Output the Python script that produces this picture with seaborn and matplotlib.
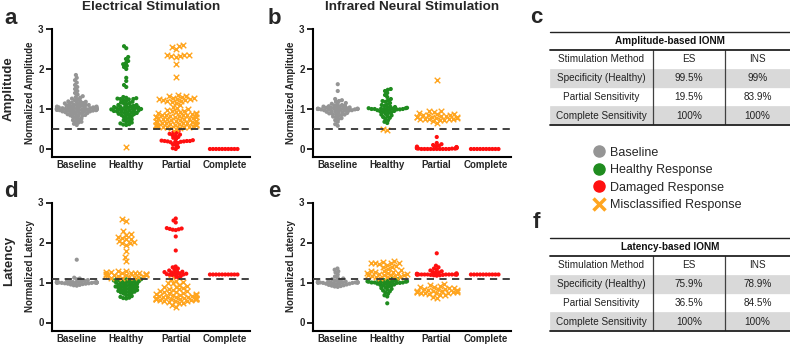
import warnings
import numpy as np
import pandas as pd
import matplotlib.pyplot as plt
import seaborn as sns
from matplotlib.colors import to_rgba
from matplotlib.lines import Line2D

warnings.filterwarnings('ignore')

# ---------------- data ----------------
cats = ['Baseline', 'Healthy', 'Partial', 'Complete']

# a) ES amplitude
a_base = [1.85, 1.78, 1.72, 1.66, 1.60, 1.55, 1.50, 1.45, 1.40, 1.36, 1.32, 1.30, 1.28, 1.26, 1.24, 1.22,
          1.20, 1.19, 1.18, 1.17, 1.16, 1.15, 1.14, 1.13, 1.12, 1.11, 1.10, 1.10, 1.09, 1.08, 1.08, 1.07,
          1.06, 1.06, 1.05, 1.05, 1.04, 1.04, 1.03, 1.03, 1.03, 1.02, 1.02, 1.02, 1.01, 1.01, 1.01, 1.01,
          1.00, 1.00, 1.00, 1.00, 1.00, 1.00, 1.00, 0.99, 0.99, 0.99, 0.99, 0.98, 0.98, 0.98, 0.97, 0.97,
          0.97, 0.96, 0.96, 0.95, 0.95, 0.94, 0.94, 0.93, 0.92, 0.92, 0.91, 0.90, 0.89, 0.88, 0.87, 0.86,
          0.85, 0.84, 0.83, 0.82, 0.80, 0.78, 0.76, 0.74, 0.72, 0.70, 0.68, 0.66, 0.63, 0.60]
a_healthy = [2.57, 2.52, 2.30, 2.25, 2.20, 2.15, 2.12, 2.08, 2.05, 2.00, 1.78, 1.70, 1.60, 1.55, 1.30, 1.28,
             1.27, 1.26, 1.25, 1.25, 1.24, 1.22, 1.20, 1.18, 1.16, 1.15, 1.14, 1.12, 1.10, 1.10, 1.08, 1.07,
             1.06, 1.05, 1.05, 1.04, 1.03, 1.02, 1.02, 1.01, 1.00, 1.00, 0.99, 0.98, 0.98, 0.97, 0.96, 0.95,
             0.95, 0.94, 0.93, 0.92, 0.91, 0.90, 0.90, 0.88, 0.87, 0.86, 0.85, 0.84, 0.82, 0.80, 0.78, 0.76,
             0.74, 0.72, 0.70, 0.68, 0.66, 0.64, 0.62, 0.61, 0.60]
a_healthy_mis = [0.05]
a_partial_mis = [2.60, 2.58, 2.55, 2.50, 2.36, 2.35, 2.34, 2.33, 2.32, 2.30, 2.12, 1.80, 1.35, 1.33, 1.32, 1.30,
                 1.28, 1.27, 1.26, 1.25, 1.24, 1.23, 1.22, 1.21, 1.20, 1.18, 1.15, 1.10, 1.05, 1.02, 1.00, 0.98,
                 0.96, 0.95, 0.93, 0.92, 0.90, 0.90, 0.88, 0.87, 0.86, 0.85, 0.85, 0.84, 0.83, 0.82, 0.81, 0.80,
                 0.80, 0.79, 0.78, 0.77, 0.76, 0.75, 0.75, 0.74, 0.73, 0.72, 0.71, 0.70, 0.70, 0.69, 0.68, 0.67,
                 0.66, 0.65, 0.65, 0.64, 0.63, 0.62, 0.62, 0.61, 0.60, 0.60, 0.60, 0.59, 0.58, 0.58, 0.57, 0.56,
                 0.55, 0.55, 0.54, 0.53, 0.52, 0.51]
a_partial_dmg = [0.45, 0.42, 0.40, 0.38, 0.36, 0.35, 0.33, 0.30, 0.28, 0.25, 0.22, 0.21, 0.20, 0.20, 0.20,
                 0.19, 0.19, 0.18, 0.18, 0.17, 0.15, 0.12, 0.10, 0.05, 0.02, 0.00]
a_complete = [0.0, 0.0, 0.0, 0.0, 0.0, 0.0, 0.0, 0.0, 0.0, 0.0]

# b) INS amplitude
b_base = [1.62, 1.45, 1.25, 1.22, 1.20, 1.18, 1.15, 1.13, 1.12, 1.10, 1.09, 1.08, 1.07, 1.06, 1.05, 1.05,
          1.04, 1.03, 1.03, 1.02, 1.02, 1.01, 1.01, 1.01, 1.00, 1.00, 1.00, 1.00, 1.00, 0.99, 0.99, 0.99,
          0.98, 0.98, 0.97, 0.97, 0.96, 0.96, 0.95, 0.94, 0.93, 0.92, 0.91, 0.90, 0.89, 0.88, 0.87, 0.86,
          0.85, 0.83, 0.81, 0.79, 0.77, 0.75, 0.72, 0.68, 0.62, 0.58]
b_healthy = [1.50, 1.48, 1.45, 1.40, 1.35, 1.30, 1.25, 1.22, 1.20, 1.18, 1.15, 1.12, 1.10, 1.08, 1.06, 1.05,
             1.04, 1.03, 1.02, 1.02, 1.01, 1.01, 1.00, 1.00, 1.00, 1.00, 0.99, 0.99, 0.98, 0.97, 0.96, 0.95,
             0.94, 0.93, 0.92, 0.90, 0.88, 0.86, 0.84, 0.82, 0.80, 0.78, 0.75, 0.72, 0.68, 0.65]
b_healthy_mis = [0.49, 0.48]
b_partial_mis = [1.73, 0.96, 0.94, 0.92, 0.90, 0.88, 0.87, 0.86, 0.85, 0.84, 0.83, 0.82, 0.81, 0.80, 0.80,
                 0.79, 0.78, 0.77, 0.76, 0.76, 0.75, 0.75, 0.74, 0.73, 0.72, 0.70, 0.65]
b_partial_dmg = [0.30, 0.15, 0.12, 0.10, 0.08, 0.07, 0.06, 0.05, 0.04, 0.04, 0.03, 0.03, 0.02, 0.02, 0.02,
                 0.01, 0.01, 0.01, 0.0, 0.0, 0.0, 0.0, 0.0, 0.0, 0.0, 0.0, 0.0, 0.0]
b_complete = [0.0, 0.0, 0.0, 0.0, 0.0, 0.0, 0.0, 0.0, 0.0, 0.0]

# d) ES latency
d_base = [1.57, 1.12, 1.10, 1.08, 1.06, 1.05, 1.04, 1.03, 1.03, 1.02, 1.02, 1.01, 1.01, 1.01, 1.00, 1.00,
          1.00, 1.00, 1.00, 1.00, 1.00, 1.00, 1.00, 1.00, 1.00, 1.00, 0.99, 0.99, 0.99, 0.98, 0.98, 0.97,
          0.97, 0.96, 0.95, 0.94, 0.93, 0.92]
d_healthy = [1.09, 1.08, 1.08, 1.07, 1.06, 1.05, 1.05, 1.04, 1.03, 1.02, 1.01, 1.00, 1.00, 0.99, 0.98, 0.97,
             0.96, 0.95, 0.94, 0.93, 0.92, 0.91, 0.90, 0.90, 0.89, 0.88, 0.87, 0.86, 0.85, 0.84, 0.83, 0.82,
             0.81, 0.80, 0.79, 0.78, 0.77, 0.76, 0.75, 0.74, 0.72, 0.70, 0.68, 0.66, 0.64, 0.62, 0.61, 0.60]
d_healthy_mis = [2.60, 2.55, 2.28, 2.22, 2.20, 2.15, 2.12, 2.10, 2.08, 2.05, 2.02, 2.00, 1.98, 1.95, 1.80,
                 1.65, 1.55, 1.30, 1.28, 1.27, 1.26, 1.25, 1.25, 1.24, 1.23, 1.22, 1.22, 1.21, 1.20, 1.20,
                 1.20, 1.19, 1.18, 1.17, 1.16, 1.15, 1.14, 1.13, 1.12, 1.11]
d_partial_dmg = [2.60, 2.55, 2.50, 2.36, 2.35, 2.34, 2.33, 2.32, 2.31, 2.15, 1.80, 1.40, 1.38, 1.35, 1.32,
                 1.30, 1.28, 1.27, 1.26, 1.25, 1.24, 1.23, 1.22, 1.21, 1.20, 1.20, 1.19, 1.18, 1.16, 1.14, 1.12]
d_partial_mis = [1.08, 1.05, 1.02, 1.00, 0.98, 0.95, 0.92, 0.90, 0.88, 0.86, 0.85, 0.84, 0.82, 0.80, 0.78,
                 0.77, 0.76, 0.75, 0.74, 0.72, 0.71, 0.70, 0.69, 0.68, 0.67, 0.66, 0.65, 0.65, 0.64, 0.63,
                 0.62, 0.62, 0.61, 0.61, 0.60, 0.60, 0.60, 0.60, 0.59, 0.59, 0.58, 0.58, 0.57, 0.56, 0.55,
                 0.54, 0.53, 0.52, 0.50, 0.48, 0.45, 0.40]
d_complete = [1.2, 1.2, 1.2, 1.2, 1.2, 1.2, 1.2, 1.2, 1.2, 1.2]

# e) INS latency
e_base = [1.35, 1.32, 1.28, 1.25, 1.20, 1.15, 1.12, 1.10, 1.08, 1.06, 1.05, 1.04, 1.03, 1.02, 1.02, 1.01,
          1.01, 1.00, 1.00, 1.00, 1.00, 1.00, 1.00, 1.00, 1.00, 1.00, 1.00, 0.99, 0.99, 0.98, 0.98, 0.97,
          0.97, 0.96, 0.95, 0.94, 0.93, 0.92, 0.91, 0.90, 0.89]
e_healthy = [1.10, 1.08, 1.07, 1.06, 1.05, 1.04, 1.04, 1.03, 1.03, 1.02, 1.02, 1.01, 1.01, 1.00, 1.00, 1.00,
             1.00, 0.99, 0.99, 0.98, 0.97, 0.96, 0.95, 0.94, 0.93, 0.92, 0.90, 0.88, 0.86, 0.84, 0.82, 0.80,
             0.78, 0.75, 0.72, 0.68, 0.65, 0.48]
e_healthy_mis = [1.55, 1.52, 1.50, 1.50, 1.49, 1.48, 1.47, 1.45, 1.42, 1.40, 1.38, 1.35, 1.32, 1.30, 1.28,
                 1.27, 1.26, 1.25, 1.24, 1.23, 1.22, 1.21, 1.20, 1.20, 1.19, 1.18, 1.17, 1.16, 1.15, 1.14,
                 1.13, 1.12]
e_partial_dmg = [1.73, 1.42, 1.38, 1.35, 1.32, 1.30, 1.28, 1.26, 1.25, 1.24, 1.23, 1.22, 1.21, 1.21, 1.20,
                 1.20, 1.20, 1.20, 1.20, 1.20, 1.20, 1.20, 1.20, 1.20, 1.20, 1.20, 1.19, 1.19, 1.18, 1.18, 1.17]
e_partial_mis = [0.96, 0.94, 0.92, 0.90, 0.88, 0.87, 0.86, 0.85, 0.84, 0.83, 0.82, 0.81, 0.80, 0.80, 0.79,
                 0.78, 0.77, 0.77, 0.76, 0.76, 0.75, 0.75, 0.74, 0.73, 0.72, 0.70, 0.68, 0.65, 0.62]
e_complete = [1.2, 1.2, 1.2, 1.2, 1.2, 1.2, 1.2, 1.2, 1.2, 1.2]

# tables
metrics = ['Specificity (Healthy)', 'Partial Sensitivity', 'Complete Sensitivity']
amp_es = ['99.5%', '19.5%', '100%']
amp_ins = ['99%', '83.9%', '100%']
lat_es = ['75.9%', '36.5%', '100%']
lat_ins = ['78.9%', '84.5%', '100%']

amp_threshold = 0.5
lat_threshold = 1.1

# ---------------- style ----------------
GREY, GREEN, RED, ORANGE = '#959595', '#1f8c1f', '#ff1010', '#ffa51f'
palette = {'base': GREY, 'ok': GREEN, 'dmg': RED, 'mis': ORANGE}
DOT_LAYOUT, DOT = 2.1, 3.0        # marker diameter (pt) used for swarm layout / for drawing
CROSS_LAYOUT, CROSS = 3.0, 16.0

sns.set_style('ticks')
plt.rcParams['font.family'] = ['Liberation Sans', 'DejaVu Sans']


def build(groups):
    rows = []
    for cat, cls, vals in groups:
        rows += [(cat, cls, v) for v in vals]
    return pd.DataFrame(rows, columns=['cat', 'cls', 'value'])


def is_orange(fc):
    return np.all(np.isclose(fc, np.array(to_rgba(ORANGE)), atol=1e-3), axis=1)


def swarm_panel(ax, df, thr, ylabel):
    sns.swarmplot(data=df, x='cat', y='value', hue='cls', palette=palette, order=cats,
                  size=DOT_LAYOUT, linewidth=0, legend=False, ax=ax)
    for coll in ax.collections:
        fc = coll.get_facecolors()
        coll.set_sizes(np.where(is_orange(fc), CROSS_LAYOUT ** 2, DOT_LAYOUT ** 2))
    ax.axhline(thr, color='#333333', lw=1.3, dashes=(4, 3), zorder=4)
    ax.set_ylim(-0.2, 3.0)
    ax.set_xlim(-0.5, 3.5)
    ax.set_yticks([0, 1, 2, 3])
    ax.set_xlabel('')
    ax.set_ylabel(ylabel, fontsize=7, fontweight='bold')
    ax.yaxis.set_label_coords(-0.088, 0.5)
    ax.tick_params(axis='x', length=0, labelsize=7, pad=2.5)
    ax.tick_params(axis='y', length=4, width=1.4, labelsize=7, pad=2)
    for t in ax.get_xticklabels() + ax.get_yticklabels():
        t.set_fontweight('bold')
    sns.despine(ax=ax)
    for s in ['left', 'bottom']:
        ax.spines[s].set_linewidth(1.5)
        ax.spines[s].set_color('black')


def finish_swarm(ax):
    # keep the seaborn layout, draw dots a bit bigger (overlapping) and orange ones as crosses
    for coll in list(ax.collections):
        fc = coll.get_facecolors()
        if len(fc) == 0:
            continue
        if 'draw' in coll.__dict__:
            del coll.draw
        coll.set_sizes([DOT ** 2])
        mis = is_orange(fc)
        if mis.any():
            xy = coll.get_offsets()[mis]
            fc = fc.copy()
            fc[mis] = (0, 0, 0, 0)
            coll.set_facecolors(fc)
            ax.scatter(xy[:, 0], xy[:, 1], marker='x', s=CROSS, color=ORANGE, linewidths=1.0, zorder=3)


fig = plt.figure(figsize=(7.9, 3.45), dpi=100)
W, H = 790, 345

ax_a = fig.add_axes([52 / W, 188 / H, 198 / W, 128 / H])
ax_b = fig.add_axes([313 / W, 188 / H, 198 / W, 128 / H])
ax_d = fig.add_axes([52 / W, 14.5 / H, 198 / W, 128 / H])
ax_e = fig.add_axes([313 / W, 14.5 / H, 198 / W, 128 / H])

df_a = build([('Baseline', 'base', a_base), ('Healthy', 'ok', a_healthy), ('Healthy', 'mis', a_healthy_mis),
              ('Partial', 'mis', a_partial_mis), ('Partial', 'dmg', a_partial_dmg), ('Complete', 'dmg', a_complete)])
df_b = build([('Baseline', 'base', b_base), ('Healthy', 'ok', b_healthy), ('Healthy', 'mis', b_healthy_mis),
              ('Partial', 'mis', b_partial_mis), ('Partial', 'dmg', b_partial_dmg), ('Complete', 'dmg', b_complete)])
df_d = build([('Baseline', 'base', d_base), ('Healthy', 'ok', d_healthy), ('Healthy', 'mis', d_healthy_mis),
              ('Partial', 'dmg', d_partial_dmg), ('Partial', 'mis', d_partial_mis), ('Complete', 'dmg', d_complete)])
df_e = build([('Baseline', 'base', e_base), ('Healthy', 'ok', e_healthy), ('Healthy', 'mis', e_healthy_mis),
              ('Partial', 'dmg', e_partial_dmg), ('Partial', 'mis', e_partial_mis), ('Complete', 'dmg', e_complete)])

swarm_panel(ax_a, df_a, amp_threshold, 'Normalized Amplitude')
swarm_panel(ax_b, df_b, amp_threshold, 'Normalized Amplitude')
swarm_panel(ax_d, df_d, lat_threshold, 'Normalized Latency')
swarm_panel(ax_e, df_e, lat_threshold, 'Normalized Latency')

# lay out the swarms once, then restyle the markers
fig.canvas.draw()
for ax in [ax_a, ax_b, ax_d, ax_e]:
    finish_swarm(ax)

# titles, row labels, panel letters
fig.text(151 / W, 1 - 7 / H, 'Electrical Stimulation', ha='center', va='center', fontsize=9.7, fontweight='bold')
fig.text(412 / W, 1 - 7 / H, 'Infrared Neural Stimulation', ha='center', va='center', fontsize=9.7, fontweight='bold')
fig.text(9 / W, 1 - 89 / H, 'Amplitude', rotation=90, ha='center', va='center', fontsize=9.5, fontweight='bold')
fig.text(9 / W, 1 - 261 / H, 'Latency', rotation=90, ha='center', va='center', fontsize=9.5, fontweight='bold')
for letter, x, y in [('a', 4, 24), ('b', 268, 24), ('c', 530, 23), ('d', 4, 197), ('e', 268, 197), ('f', 533, 228)]:
    fig.text(x / W, 1 - y / H, letter, ha='left', va='baseline', fontsize=16, fontweight='bold')


def draw_table(top, title, es, ins):
    ax = fig.add_axes([550 / W, 1 - (top + 93) / H, 240 / W, 93 / H])
    ax.set_axis_off()
    ax.set_xlim(0, 1)
    ax.set_ylim(0, 1)
    body = [['Stimulation Method', 'ES', 'INS']] + [[m, e, i] for m, e, i in zip(metrics, es, ins)]
    col_w = [103 / 240, 72 / 240, 65 / 240]
    tab = ax.table(cellText=body, cellLoc='center', colWidths=col_w, bbox=[0, 0, 1, 75 / 93])
    tab.auto_set_font_size(False)
    tab.set_fontsize(7.2)
    for (r, c), cell in tab.get_celld().items():
        shade = '#d9d9d9' if r in (1, 3) else 'white'
        cell.set_facecolor(shade)
        cell.set_edgecolor(shade)
        cell.set_linewidth(0.5)
        cell.get_text().set_color('#222222')
    for xv in np.cumsum(col_w)[:2]:
        ax.axvline(xv, ymin=0, ymax=75 / 93, color='#404040', lw=0.9)
    ax.text(0.5, 0.903, title, ha='center', va='center', fontsize=7.2, fontweight='bold', color='#111111')
    for y, lw in [(1.0, 1.0), (75 / 93, 1.3), (0.0, 1.3)]:
        ax.axhline(y, color='#222222', lw=lw, clip_on=False)


draw_table(32, 'Amplitude-based IONM', amp_es, amp_ins)
draw_table(238, 'Latency-based IONM', lat_es, lat_ins)

handles = [
    Line2D([], [], ls='', marker='o', markersize=8, color=GREY),
    Line2D([], [], ls='', marker='o', markersize=8, color=GREEN),
    Line2D([], [], ls='', marker='o', markersize=8, color=RED),
    Line2D([], [], ls='', marker='x', markersize=8, markeredgewidth=2.5, color=ORANGE),
]
labels = ['Baseline', 'Healthy Response', 'Damaged Response', 'Misclassified Response']
fig.legend(handles, labels, loc='center left', bbox_to_anchor=(581 / W, 1 - 179 / H), frameon=False,
           fontsize=9, handlelength=1.0, handletextpad=0.45, labelspacing=0.45, borderpad=0.4)

fig.savefig('out.png', dpi=100)
